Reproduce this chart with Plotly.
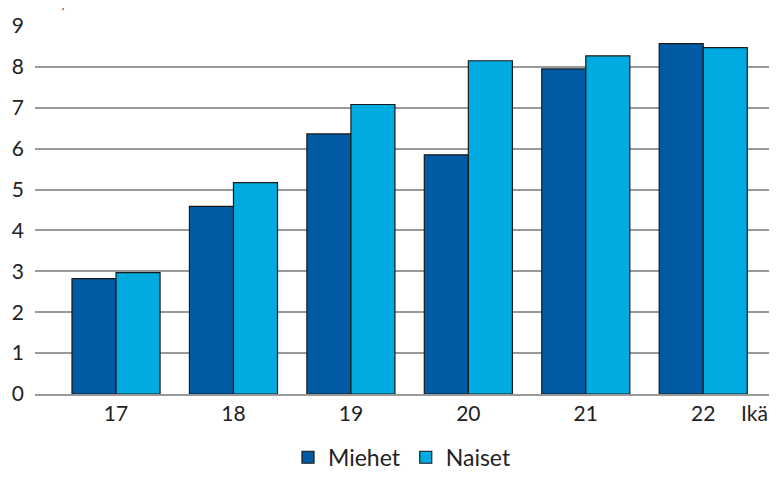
import plotly.graph_objects as go

ages = ["17", "18", "19", "20", "21", "22"]
miehet = [2.82, 4.59, 6.36, 5.85, 7.95, 8.57]
naiset = [2.97, 5.17, 7.08, 8.15, 8.27, 8.47]
y_ticks = [0, 1, 2, 3, 4, 5, 6, 7, 8, 9]

FONT = "Lato"

fig = go.Figure()
fig.add_trace(go.Bar(name="Miehet", x=ages, y=miehet, marker=dict(color="#005BA4", line=dict(color="#1a1a1a", width=1.2))))
fig.add_trace(go.Bar(name="Naiset", x=ages, y=naiset, marker=dict(color="#00ABE1", line=dict(color="#1a1a1a", width=1.2))))

fig.update_layout(
    width=761, height=463,
    margin=dict(l=27, r=0, t=18, b=77, autoexpand=False),
    paper_bgcolor="white", plot_bgcolor="white",
    barmode="group", bargap=0.25, bargroupgap=0,
    font=dict(family=FONT, size=21, color="#222"),
    showlegend=True,
    legend=dict(orientation="h", x=0.5, xanchor="center", y=-0.172, yanchor="middle",
                font=dict(size=23, family=FONT), itemwidth=30, traceorder="normal"),
    xaxis=dict(type="category", range=[-0.69, 5.56], showgrid=False, showline=True,
               linecolor="#999", linewidth=1.5, ticks="", tickfont=dict(size=21), automargin=False),
    yaxis=dict(range=[0, 9], tickvals=y_ticks, showgrid=True, gridcolor="#999", gridwidth=1.5,
               zeroline=False, showline=False, ticks="", tickfont=dict(size=21), ticklabelstandoff=10,
               automargin=False),
)
fig.add_annotation(text="Ikä", xref="paper", yref="paper", x=1.0, y=-0.05, xanchor="right", yanchor="middle",
                   borderpad=0, showarrow=False, font=dict(size=21, family=FONT))
fig.add_annotation(text="Osuus, %", xref="paper", yref="paper", x=-0.036, y=1.0, xanchor="left", yanchor="bottom",
                   yshift=12, showarrow=False, font=dict(size=18, family=FONT))

fig.write_html("out.html")
